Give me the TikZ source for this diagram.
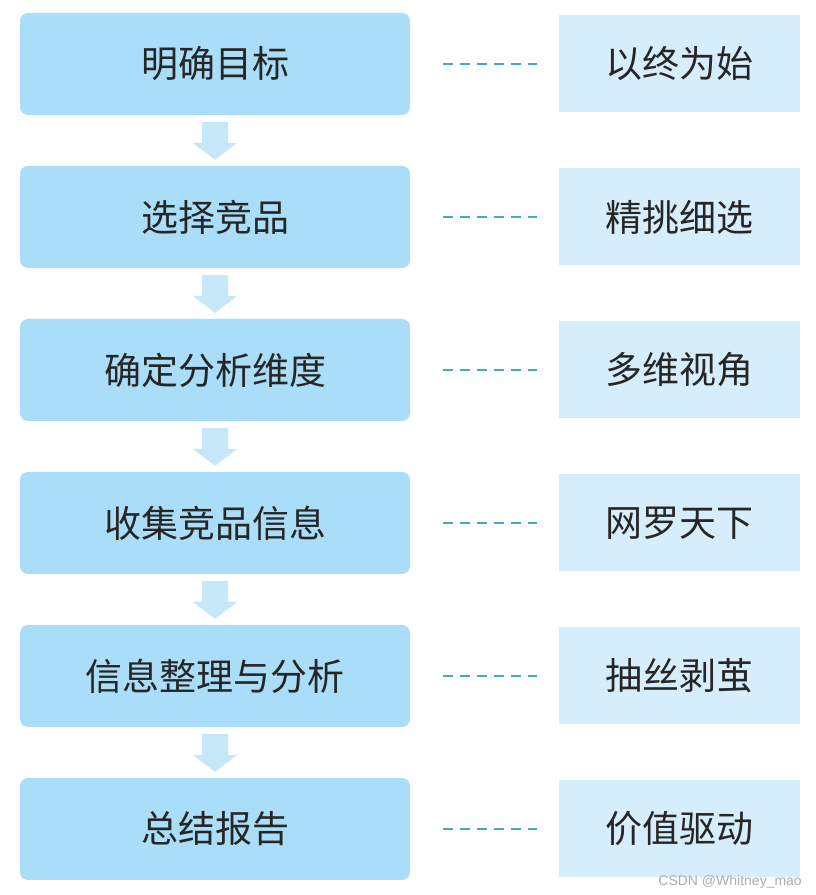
\documentclass[tikz,border=0pt]{standalone}
\usepackage{fontspec}
\newfontfamily\cjk{Noto Sans CJK SC}
\newfontfamily\wmfont{Liberation Sans}
\usetikzlibrary{calc}
\definecolor{stepblue}{HTML}{A9DDF8}
\definecolor{tagblue}{HTML}{D6EEFB}
\definecolor{arrowblue}{HTML}{C6E7F8}
\definecolor{dashblue}{HTML}{45A6D6}
\definecolor{textgray}{HTML}{262626}
\tikzset{
  stepbox/.style={fill=stepblue, rounded corners=8pt, minimum width=390pt,
    minimum height=102pt, inner sep=0pt, text=textgray,
    font=\cjk\fontsize{37}{40}\selectfont},
  tagbox/.style={fill=tagblue, minimum width=241pt, minimum height=97pt,
    inner sep=0pt, text=textgray, font=\cjk\fontsize{37}{40}\selectfont},
  link/.style={dashblue, line width=1.6pt, dash pattern=on 10pt off 7pt,
    shorten <=33pt, shorten >=22pt},
}

\begin{document}
\begin{tikzpicture}[x=1pt, y=1pt]
    \useasboundingbox (0,0) rectangle (815,895);

    % Steps, tags and dashed links
    \foreach \step/\tag [count=\i] in {明确目标/以终为始, 选择竞品/精挑细选,
        确定分析维度/多维视角, 收集竞品信息/网罗天下,
        信息整理与分析/抽丝剥茧, 总结报告/价值驱动} {
        \node[stepbox] (l\i) at (215, 984-153*\i) {\step};
        \node[tagbox] (r\i) at (679.5, 984-153*\i) {\tag};
        \draw[link] (l\i.east) -- (r\i.west);
    }

    % Block arrows between steps
    \foreach \i [evaluate=\i as \j using int(\i+1)] in {1,...,5}
        \fill[arrowblue] ($(l\i.south)+(-13,-7)$) -- ($(l\i.south)+(13,-7)$)
            -- ($(l\j.north)+(13,23)$) -- ($(l\j.north)+(22.5,23)$)
            -- ($(l\j.north)+(0,6)$) -- ($(l\j.north)+(-22.5,23)$)
            -- ($(l\j.north)+(-13,23)$) -- cycle;

    % Watermark
    \node[font=\wmfont\fontsize{14}{14}\selectfont, text=gray!65, anchor=east,
        inner sep=0pt] (mark) at (802,13) {CSDN @Whitney\_mao};
\end{tikzpicture}
\end{document}
